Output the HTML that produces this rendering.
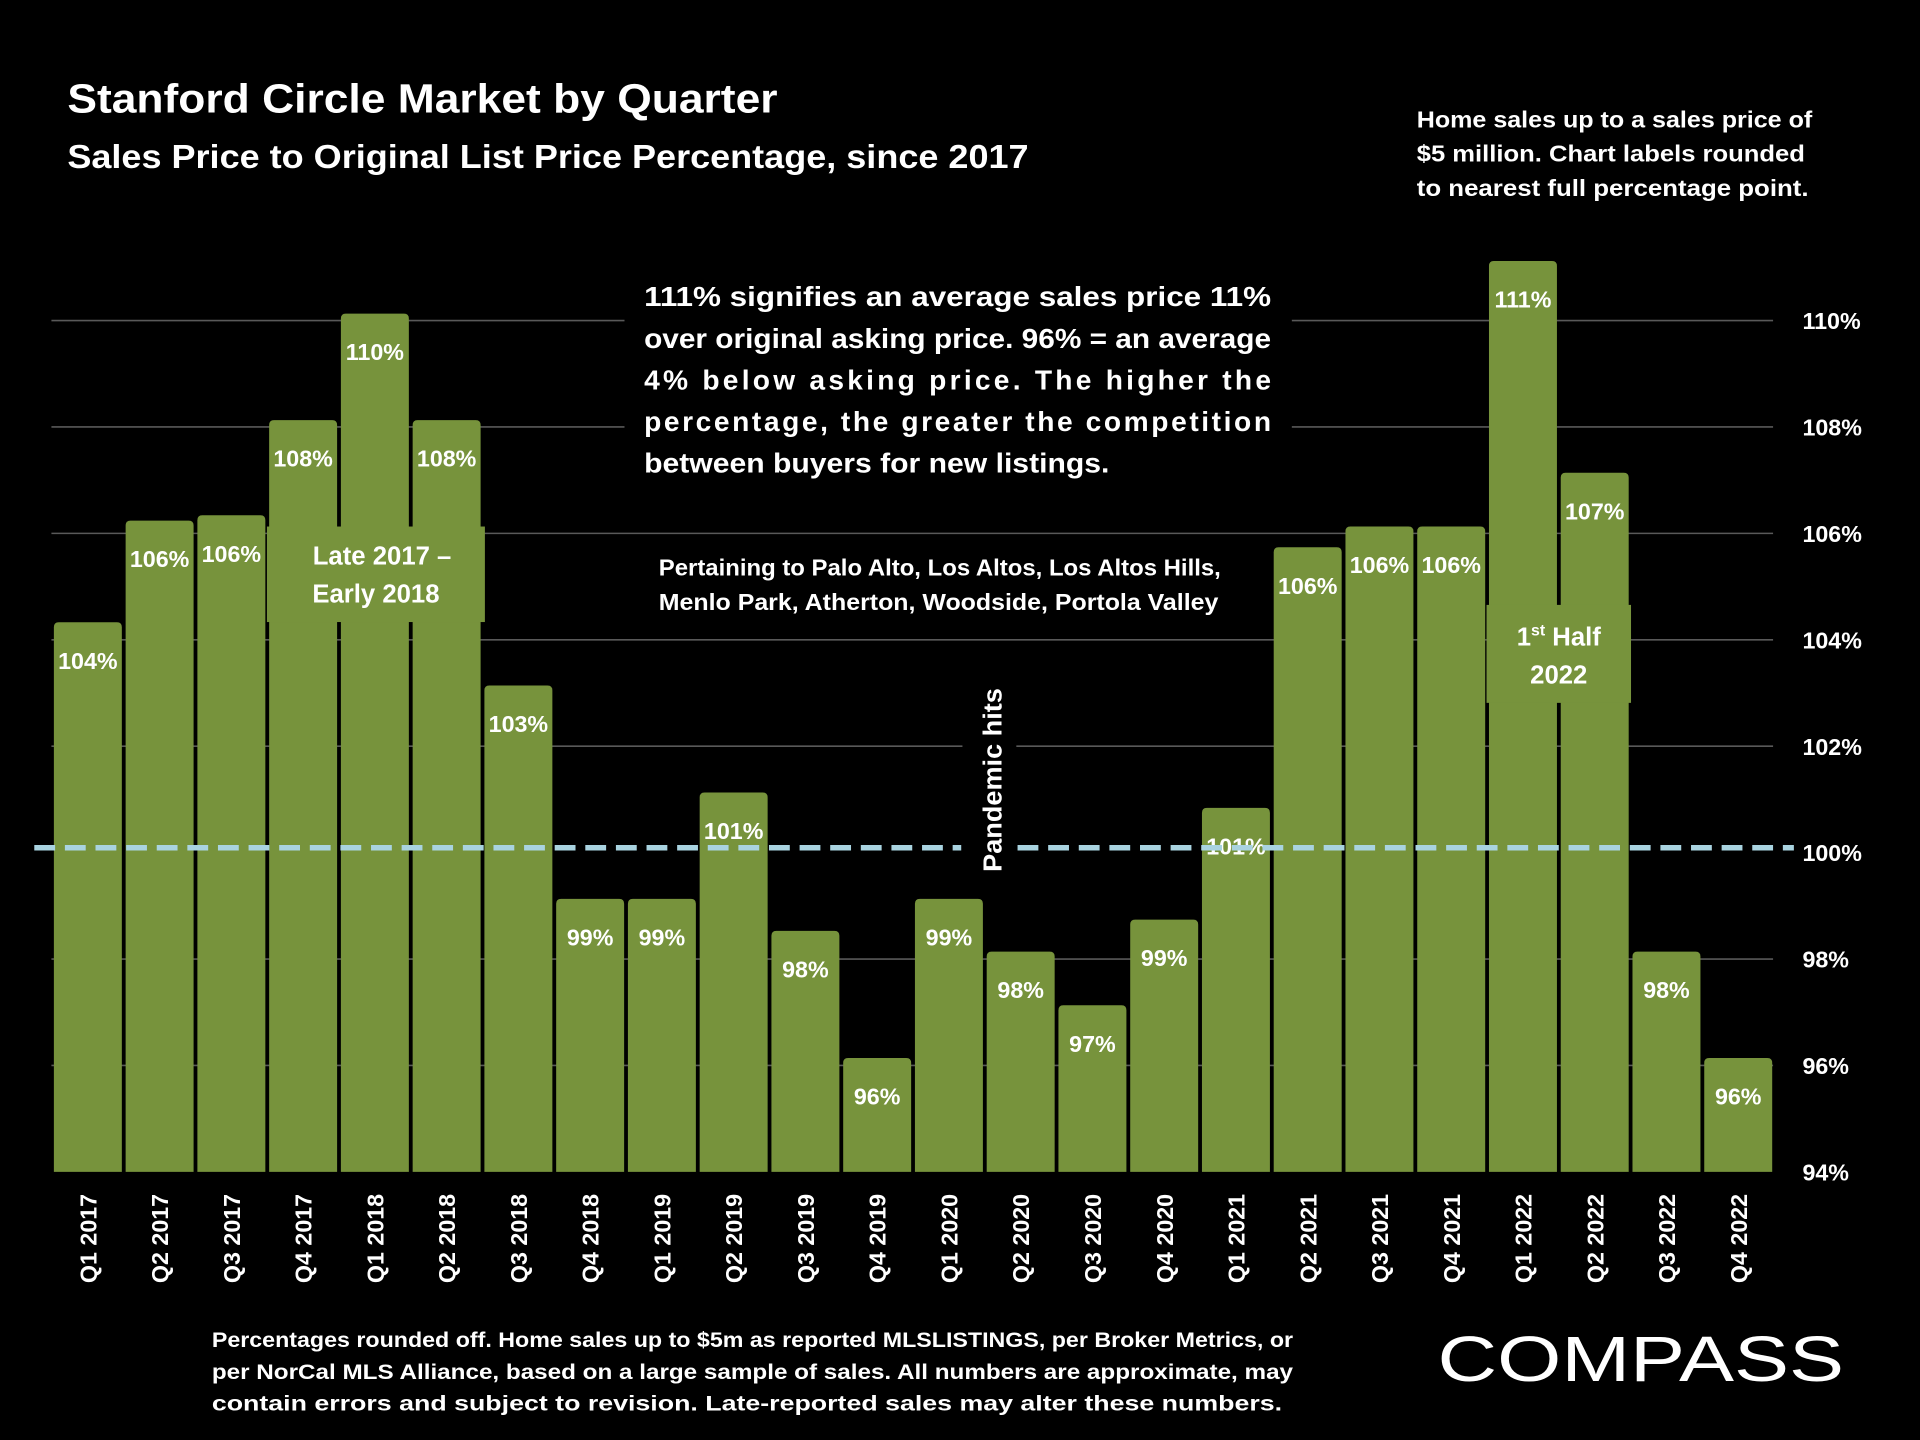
<!DOCTYPE html>
<html><head><meta charset="utf-8"><style>
html,body{margin:0;padding:0;background:#000;}
svg{display:block;}
text{font-family:"Liberation Sans",sans-serif;fill:#fff;font-weight:bold;}
</style></head><body>
<svg id="chart" width="1920" height="1440" viewBox="0 0 1568 1176" xmlns="http://www.w3.org/2000/svg">
<rect x="0" y="0" width="1568" height="1176" fill="#000"/>
<text x="55" y="92" font-size="33" textLength="580" lengthAdjust="spacingAndGlyphs">Stanford Circle Market by Quarter</text>
<text x="55" y="137" font-size="27" textLength="785" lengthAdjust="spacingAndGlyphs">Sales Price to Original List Price Percentage, since 2017</text>
<g font-size="19">
<text x="1157" y="104" textLength="323" lengthAdjust="spacingAndGlyphs">Home sales up to a sales price of</text>
<text x="1157" y="132" textLength="317" lengthAdjust="spacingAndGlyphs">$5 million. Chart labels rounded</text>
<text x="1157" y="160" textLength="320" lengthAdjust="spacingAndGlyphs">to nearest full percentage point.</text>
</g>
<g id="grid"></g>
<g id="bars"></g>
<g id="ylabels"></g>
<g id="xlabels"></g>
<rect x="510" y="222" width="545" height="182" fill="#000"/>
<g font-size="23">
<text x="526" y="250" textLength="512" lengthAdjust="spacingAndGlyphs">111% signifies an average sales price 11%</text>
<text x="526" y="284" textLength="512" lengthAdjust="spacingAndGlyphs">over original asking price. 96% = an average</text>
<text x="526" y="318" textLength="512" lengthAdjust="spacing">4% below asking price. The higher the</text>
<text x="526" y="352" textLength="512" lengthAdjust="spacing">percentage, the greater the competition</text>
<text x="526" y="386" textLength="380" lengthAdjust="spacingAndGlyphs">between buyers for new listings.</text>
</g>
<g font-size="18.5">
<text x="538" y="470" textLength="459" lengthAdjust="spacingAndGlyphs">Pertaining to Palo Alto, Los Altos, Los Altos Hills,</text>
<text x="538" y="498" textLength="457" lengthAdjust="spacingAndGlyphs">Menlo Park, Atherton, Woodside, Portola Valley</text>
</g>
<rect x="786" y="540" width="44" height="180" fill="#000"/>
<g id="dash"></g>
<text transform="translate(818,712) rotate(-90)" font-size="21" textLength="150" lengthAdjust="spacingAndGlyphs">Pandemic hits</text>
<rect x="218" y="430" width="178" height="78" fill="#77933c"/>
<text x="312" y="461" font-size="21" text-anchor="middle">Late 2017 –</text>
<text x="307" y="492" font-size="21" text-anchor="middle">Early 2018</text>
<rect x="1214" y="494" width="118" height="80" fill="#77933c"/>
<text x="1273" y="527" font-size="21" text-anchor="middle">1<tspan font-size="13" dy="-8">st</tspan><tspan dy="8"> Half</tspan></text>
<text x="1273" y="558" font-size="21" text-anchor="middle">2022</text>
<g font-size="17">
<text x="173" y="1100" textLength="883" lengthAdjust="spacingAndGlyphs">Percentages rounded off. Home sales up to $5m as reported MLSLISTINGS, per Broker Metrics, or</text>
<text x="173" y="1126" textLength="883" lengthAdjust="spacingAndGlyphs">per NorCal MLS Alliance, based on a large sample of sales. All numbers are approximate, may</text>
<text x="173" y="1152" textLength="874" lengthAdjust="spacingAndGlyphs">contain errors and subject to revision. Late-reported sales may alter these numbers.</text>
</g>
<text x="1174" y="1128" font-size="52" style="font-weight:normal" textLength="332" lengthAdjust="spacingAndGlyphs">COMPASS</text>
</svg>
<script>
const categories=["Q1 2017","Q2 2017","Q3 2017","Q4 2017","Q1 2018","Q2 2018","Q3 2018","Q4 2018","Q1 2019","Q2 2019","Q3 2019","Q4 2019","Q1 2020","Q2 2020","Q3 2020","Q4 2020","Q1 2021","Q2 2021","Q3 2021","Q4 2021","Q1 2022","Q2 2022","Q3 2022","Q4 2022"];
const values=[104.33,106.24,106.34,108.13,110.13,108.13,103.14,99.13,99.13,101.13,98.53,96.14,99.13,98.14,97.13,98.74,100.84,105.74,106.13,106.13,111.12,107.14,98.14,96.14];
const labels=["104%","106%","106%","108%","110%","108%","103%","99%","99%","101%","98%","96%","99%","98%","97%","99%","101%","106%","106%","106%","111%","107%","98%","96%"];
const yTicks=[94,96,98,100,102,104,106,108,110];
const NS="http://www.w3.org/2000/svg";
const y=v=>957-(v-94)*43.45;
const x=i=>44+i*58.6;
const bw=55.5;
function mk(tag,attrs,parent){const e=document.createElementNS(NS,tag);for(const k in attrs)e.setAttribute(k,attrs[k]);parent.appendChild(e);return e;}
const grid=document.getElementById('grid'),bars=document.getElementById('bars'),yl=document.getElementById('ylabels'),xl=document.getElementById('xlabels'),dash=document.getElementById('dash');
yTicks.forEach(t=>{
  if(t>94&&t!==100){const l=mk('line',{x1:42,x2:1448,y1:y(t),y2:y(t),stroke:'#595959','stroke-width':1.3},grid);
  
  }
  const tx=mk('text',{x:1472,y:y(t)+7,'font-size':19},yl);tx.textContent=t+'%';
  
  
});
values.forEach((v,i)=>{
  const top=y(v);
  const p=mk('path',{d:`M${x(i)},957 V${top+4} Q${x(i)},${top} ${x(i)+4},${top} H${x(i)+bw-4} Q${x(i)+bw},${top} ${x(i)+bw},${top+4} V957 Z`,fill:'#77933c'},bars);
  
  
  const t=mk('text',{x:x(i)+bw/2,y:top+38,'font-size':19,'text-anchor':'middle'},bars);t.textContent=labels[i];
  
  
  const c=mk('text',{transform:`translate(${x(i)+bw/2+7},975) rotate(-90)`,'font-size':19,'text-anchor':'end'},xl);c.textContent=categories[i];
  
  
});
[[28,785],[831,1465]].forEach(s=>{
  const d=mk('line',{x1:s[0],x2:s[1],y1:y(100)-4,y2:y(100)-4,stroke:'#a9d3e0','stroke-width':4.5,'stroke-dasharray':'17 8'},dash);
  
  
});
</script>
</body></html>
